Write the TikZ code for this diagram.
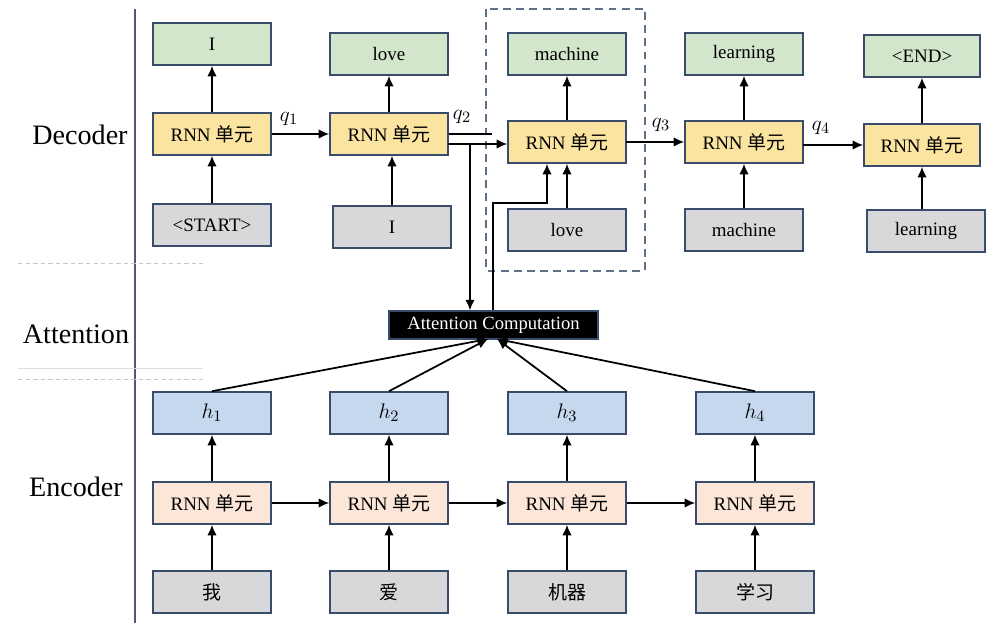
\documentclass[tikz,border=0pt]{standalone}
\usepackage{fontspec}
\setmainfont{Liberation Serif}
\newfontfamily\cjk{Noto Sans CJK SC}
\usetikzlibrary{arrows.meta}

\definecolor{boxline}{RGB}{58,76,108}
\definecolor{outgreen}{RGB}{210,230,204}
\definecolor{cellyellow}{RGB}{251,228,160}
\definecolor{ingray}{RGB}{216,216,219}
\definecolor{hidblue}{RGB}{197,216,238}
\definecolor{encpink}{RGB}{251,230,215}
\definecolor{sepgray}{RGB}{200,200,200}
\definecolor{framegray}{RGB}{80,90,110}

\tikzset{
  cell/.style={draw=boxline, line width=0.9pt, minimum width=2.36cm,
    minimum height=0.84cm, inner sep=0pt,
    font=\fontsize{10.8}{12}\selectfont},
  outbox/.style={cell, fill=outgreen},
  rnnbox/.style={cell, fill=cellyellow},
  inbox/.style={cell, fill=ingray},
  hidbox/.style={cell, fill=hidblue, font=\fontsize{13}{15}\selectfont},
  encbox/.style={cell, fill=encpink},
  attbox/.style={draw=boxline, fill=black, text=white, line width=0.7pt,
    minimum width=4.18cm, minimum height=0.56cm, inner sep=0pt,
    font=\fontsize{10.6}{12}\selectfont},
  flow/.style={line width=1pt, -{Latex[length=6pt,width=5.4pt]}},
  plain/.style={line width=1pt},
  rowlabel/.style={font=\fontsize{16}{18}\selectfont},
  qlabel/.style={font=\fontsize{13}{15}\selectfont},
  sep/.style={sepgray, line width=0.5pt, dash pattern=on 2.5pt off 1.8pt},
}

\begin{document}
\begin{tikzpicture}[x=0.02cm, y=-0.02cm]
\useasboundingbox (0,0) rectangle (995,634);

% row labels and the frame line on the left
\node[rowlabel] (labdec) at (80,135) {Decoder};
\node[rowlabel] (labatt) at (76,334) {Attention};
\node[rowlabel] (labenc) at (76,487) {Encoder};
\coordinate (ftop) at (135,9);
\coordinate (fbot) at (135,623);
\draw[framegray, line width=0.6pt] (ftop) -- (fbot);
\coordinate (s1a) at (18,263); \coordinate (s1b) at (203,263);
\coordinate (s2a) at (18,368); \coordinate (s2b) at (203,368);
\coordinate (s3a) at (18,379); \coordinate (s3b) at (203,379);
\draw[sep] (s1a) -- (s1b);
\draw[sepgray!60, line width=0.4pt] (s2a) -- (s2b);
\draw[sep] (s3a) -- (s3b);

% dashed frame round the third decoder step
\coordinate (fa) at (486,9);
\coordinate (fb) at (645,271);
\draw[boxline!80, line width=0.8pt, dash pattern=on 4.5pt off 3pt] (fa) rectangle (fb);

% decoder: outputs
\node[outbox] (dO1) at (212,44) {I};
\node[outbox] (dO2) at (389,54) {love};
\node[outbox] (dO3) at (567,54) {machine};
\node[outbox] (dO4) at (744,54) {learning};
\node[outbox, minimum width=2.32cm] (dO5) at (922,56) {<END>};

% decoder: RNN cells
\node[rnnbox] (dR1) at (212,134) {RNN {\cjk 单元}};
\node[rnnbox] (dR2) at (389,134) {RNN {\cjk 单元}};
\node[rnnbox] (dR3) at (567,142) {RNN {\cjk 单元}};
\node[rnnbox] (dR4) at (744,142) {RNN {\cjk 单元}};
\node[rnnbox, minimum width=2.32cm] (dR5) at (922,145) {RNN {\cjk 单元}};

% decoder: inputs
\node[inbox] (dI1) at (212,225) {<START>};
\node[inbox] (dI2) at (392,227) {I};
\node[inbox] (dI3) at (567,230) {love};
\node[inbox] (dI4) at (744,230) {machine};
\node[inbox] (dI5) at (926,231) {learning};

% attention block
\node[attbox] (att) at (493.5,325) {Attention Computation};

% encoder
\node[hidbox] (h1) at (212,413) {$h_1$};
\node[hidbox] (h2) at (389,413) {$h_2$};
\node[hidbox] (h3) at (567,413) {$h_3$};
\node[hidbox] (h4) at (755,413) {$h_4$};

\node[encbox] (eR1) at (212,503) {RNN {\cjk 单元}};
\node[encbox] (eR2) at (389,503) {RNN {\cjk 单元}};
\node[encbox] (eR3) at (567,503) {RNN {\cjk 单元}};
\node[encbox] (eR4) at (755,503) {RNN {\cjk 单元}};

\node[inbox] (eI1) at (212,592) {\cjk 我};
\node[inbox] (eI2) at (389,592) {\cjk 爱};
\node[inbox] (eI3) at (567,592) {\cjk 机器};
\node[inbox] (eI4) at (755,592) {\cjk 学习};

% decoder vertical connections
\foreach \i in {1,...,5} {
  \draw[flow] (dR\i.north) -- (dR\i.north |- dO\i.south);
}
\draw[flow] (dI1.north) -- (dR1.south);
\draw[flow] (dI2.north) -- (dI2.north |- dR2.south);
\draw[flow] (dI3.north) -- (dR3.south);
\draw[flow] (dI4.north) -- (dI4.north |- dR4.south);
\draw[flow] (dR5.south |- dI5.north) -- (dR5.south);

% decoder recurrence with hidden states
\draw[flow] (dR1.east) -- node[qlabel, pos=0.3, above=1pt] (q1) {$q_1$} (dR2.west);
\coordinate (q2stub) at (492,134);
\draw[plain] (dR2.east) -- (q2stub);
\node[qlabel] (q2) at (462,117) {$q_2$};
\coordinate (r2lo) at (448,144);
\draw[flow] (r2lo) -- (r2lo -| dR3.west);
\coordinate (qdown) at (470,144);
\draw[flow] (qdown) -- (qdown |- att.north);
\coordinate (ctxup) at (493,203);
\coordinate (ctxin) at (547,203);
\draw[flow] (ctxup |- att.north) -- (ctxup) -- (ctxin) -- (ctxin |- dR3.south);
\coordinate (r3out) at (626,142);
\draw[flow] (r3out) -- node[qlabel, pos=0.6, above=2pt] (q3) {$q_3$} (r3out -| dR4.west);
\coordinate (r4out) at (803,145);
\draw[flow] (r4out) -- node[qlabel, pos=0.3, above=2pt] (q4) {$q_4$} (r4out -| dR5.west);

% encoder connections
\foreach \i in {1,...,4} {
  \draw[flow] (eI\i.north) -- (eR\i.south);
  \draw[flow] (eR\i.north) -- (h\i.south);
}
\draw[flow] (eR1.east) -- (eR2.west);
\draw[flow] (eR2.east) -- (eR3.west);
\draw[flow] (eR3.east) -- (eR4.west);

% encoder states feeding the attention block
\coordinate (attL) at (488,339);
\coordinate (attR) at (497,339);
\draw[flow] (h1.north) -- (attL);
\draw[flow] (h2.north) -- (attL);
\draw[flow] (h3.north) -- (attR);
\draw[flow] (h4.north) -- (attR);
\end{tikzpicture}
\end{document}
